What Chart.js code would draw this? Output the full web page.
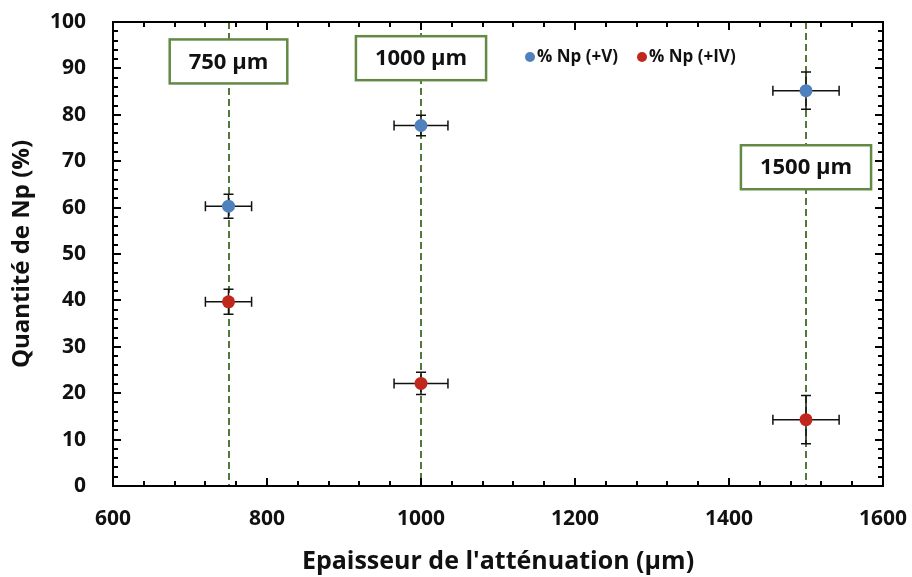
<!DOCTYPE html>
<html>
<head>
<meta charset="utf-8">
<script src="https://cdn.jsdelivr.net/npm/chart.js@4"></script>
<style>
  html, body { margin: 0; padding: 0; background: #fff; }
  #wrap { width: 912px; height: 577px; }
</style>
</head>
<body>
<div id="wrap"><canvas id="grafik"></canvas></div>
<script>
// data
const thickness = [750, 1000, 1500];
const npV = [60.3, 77.7, 85.2];
const npIV = [39.7, 22.1, 14.3];
const errV = [2.6, 2.2, 4.0];
const errIV = [2.7, 2.4, 5.2];
const errX = [30, 35, 43];
const boxLabels = ["750 µm", "1000 µm", "1500 µm"];
const boxY = [91.5, 92.2, 68.7];
const seriesNames = ["% Np (+V)", "% Np (+IV)"];

const blue = "#4f81bd";
const red = "#c0281e";
const lineGreen = "#56773c";
const boxGreen = "#638a44";
const FONT = "'Open Sans'";

const overlay = {
  id: "overlay",
  beforeDatasetsDraw(chart) {
    const { ctx, chartArea: a, scales: { x, y } } = chart;
    // vertical dashed lines at each thickness
    ctx.save();
    ctx.strokeStyle = lineGreen;
    ctx.lineWidth = 2;
    ctx.setLineDash([7, 4]);
    thickness.forEach((t) => {
      const px = Math.round(x.getPixelForValue(t));
      ctx.beginPath();
      ctx.moveTo(px, a.top);
      ctx.lineTo(px, a.bottom);
      ctx.stroke();
    });
    ctx.restore();

    // error bars
    ctx.save();
    ctx.strokeStyle = "#111";
    ctx.lineWidth = 1.5;
    const cap = 5;
    const drawErr = (vals, errs) => {
      vals.forEach((v, i) => {
        const px = x.getPixelForValue(thickness[i]);
        const py = y.getPixelForValue(v);
        const x0 = x.getPixelForValue(thickness[i] - errX[i]);
        const x1 = x.getPixelForValue(thickness[i] + errX[i]);
        const y0 = y.getPixelForValue(v - errs[i]);
        const y1 = y.getPixelForValue(v + errs[i]);
        ctx.beginPath();
        ctx.moveTo(x0, py); ctx.lineTo(x1, py);
        ctx.moveTo(x0, py - cap); ctx.lineTo(x0, py + cap);
        ctx.moveTo(x1, py - cap); ctx.lineTo(x1, py + cap);
        ctx.moveTo(px, y0); ctx.lineTo(px, y1);
        ctx.moveTo(px - cap, y0); ctx.lineTo(px + cap, y0);
        ctx.moveTo(px - cap, y1); ctx.lineTo(px + cap, y1);
        ctx.stroke();
      });
    };
    drawErr(npV, errV);
    drawErr(npIV, errIV);
    ctx.restore();
  },
  afterDatasetsDraw(chart) {
    const { ctx, chartArea: a, scales: { x, y } } = chart;
    // label boxes
    ctx.save();
    ctx.font = "bold 22px " + FONT;
    ctx.textAlign = "center";
    ctx.textBaseline = "middle";
    boxLabels.forEach((txt, i) => {
      const cx = x.getPixelForValue(thickness[i]);
      const cy = y.getPixelForValue(boxY[i]);
      const w = ctx.measureText(txt).width + 38;
      const h = 44;
      ctx.fillStyle = "#fff";
      ctx.fillRect(cx - w / 2, cy - h / 2, w, h);
      ctx.strokeStyle = boxGreen;
      ctx.lineWidth = 2.5;
      ctx.strokeRect(cx - w / 2, cy - h / 2, w, h);
      ctx.fillStyle = "#111";
      ctx.fillText(txt, cx, cy + 1);
    });
    ctx.restore();

    // legend inside plot
    ctx.save();
    ctx.font = "bold 17px " + FONT;
    ctx.textBaseline = "middle";
    ctx.textAlign = "left";
    let lx = 530;
    const ly = 57;
    [blue, red].forEach((c, i) => {
      ctx.fillStyle = c;
      ctx.beginPath();
      ctx.arc(lx, ly, 5, 0, Math.PI * 2);
      ctx.fill();
      ctx.fillStyle = "#111";
      ctx.fillText(seriesNames[i], lx + 7, ly);
      lx += 112;
    });
    ctx.restore();

    // frame and inward ticks
    ctx.save();
    ctx.strokeStyle = "#000";
    ctx.lineWidth = 2;
    ctx.strokeRect(a.left, a.top, a.right - a.left, a.bottom - a.top);
    ctx.beginPath();
    for (let v = 0; v <= 100; v += 2) {
      const py = Math.round(y.getPixelForValue(v));
      const len = v % 10 === 0 ? 8 : 5;
      ctx.moveTo(a.left, py); ctx.lineTo(a.left + len, py);
      ctx.moveTo(a.right, py); ctx.lineTo(a.right - len, py);
    }
    for (let v = 600; v <= 1600; v += 40) {
      const px = Math.round(x.getPixelForValue(v));
      const len = v % 200 === 0 ? 8 : 5;
      ctx.moveTo(px, a.bottom); ctx.lineTo(px, a.bottom - len);
      ctx.moveTo(px, a.top); ctx.lineTo(px, a.top + len);
    }
    ctx.stroke();
    ctx.restore();
  },
};

new Chart(document.getElementById("grafik"), {
  type: "scatter",
  data: {
    datasets: [
      {
        label: seriesNames[0],
        data: thickness.map((t, i) => ({ x: t, y: npV[i] })),
        backgroundColor: blue,
        pointRadius: 6.5,
        pointBorderWidth: 0,
      },
      {
        label: seriesNames[1],
        data: thickness.map((t, i) => ({ x: t, y: npIV[i] })),
        backgroundColor: red,
        pointRadius: 6.5,
        pointBorderWidth: 0,
      },
    ],
  },
  options: {
    responsive: true,
    maintainAspectRatio: false,
    animation: false,
    layout: { autoPadding: false, padding: { top: 22, right: 29, left: 0, bottom: 0 } },
    plugins: { legend: { display: false }, tooltip: { enabled: false } },
    scales: {
      x: {
        type: "linear",
        min: 600,
        max: 1600,
        afterFit: (s) => {
          s.height = 91;
          s.paddingLeft = 0;
          s.paddingRight = 0;
        },
        grid: { display: false, drawTicks: false },
        border: { display: false },
        ticks: {
          stepSize: 200,
          padding: 20,
          color: "#111",
          format: { useGrouping: false },
          font: { family: FONT, size: 21, weight: "bold" },
        },
        title: {
          display: true,
          text: "Epaisseur de l'atténuation (µm)",
          color: "#111",
          padding: { top: 0, bottom: 0 },
          font: { family: FONT, size: 25, weight: "bold" },
        },
      },
      y: {
        min: 0,
        max: 100,
        afterFit: (s) => {
          s.width = 113;
          s.paddingTop = 0;
          s.paddingBottom = 0;
        },
        grid: { display: false, drawTicks: false },
        border: { display: false },
        ticks: { stepSize: 10, padding: 27, color: "#111", font: { family: FONT, size: 21, weight: "bold" } },
        title: {
          display: true,
          text: "Quantité de Np (%)",
          color: "#111",
          padding: { top: 8, bottom: 8 },
          font: { family: FONT, size: 24, weight: "bold" },
        },
      },
    },
  },
  plugins: [overlay],
});
</script>
</body>
</html>
